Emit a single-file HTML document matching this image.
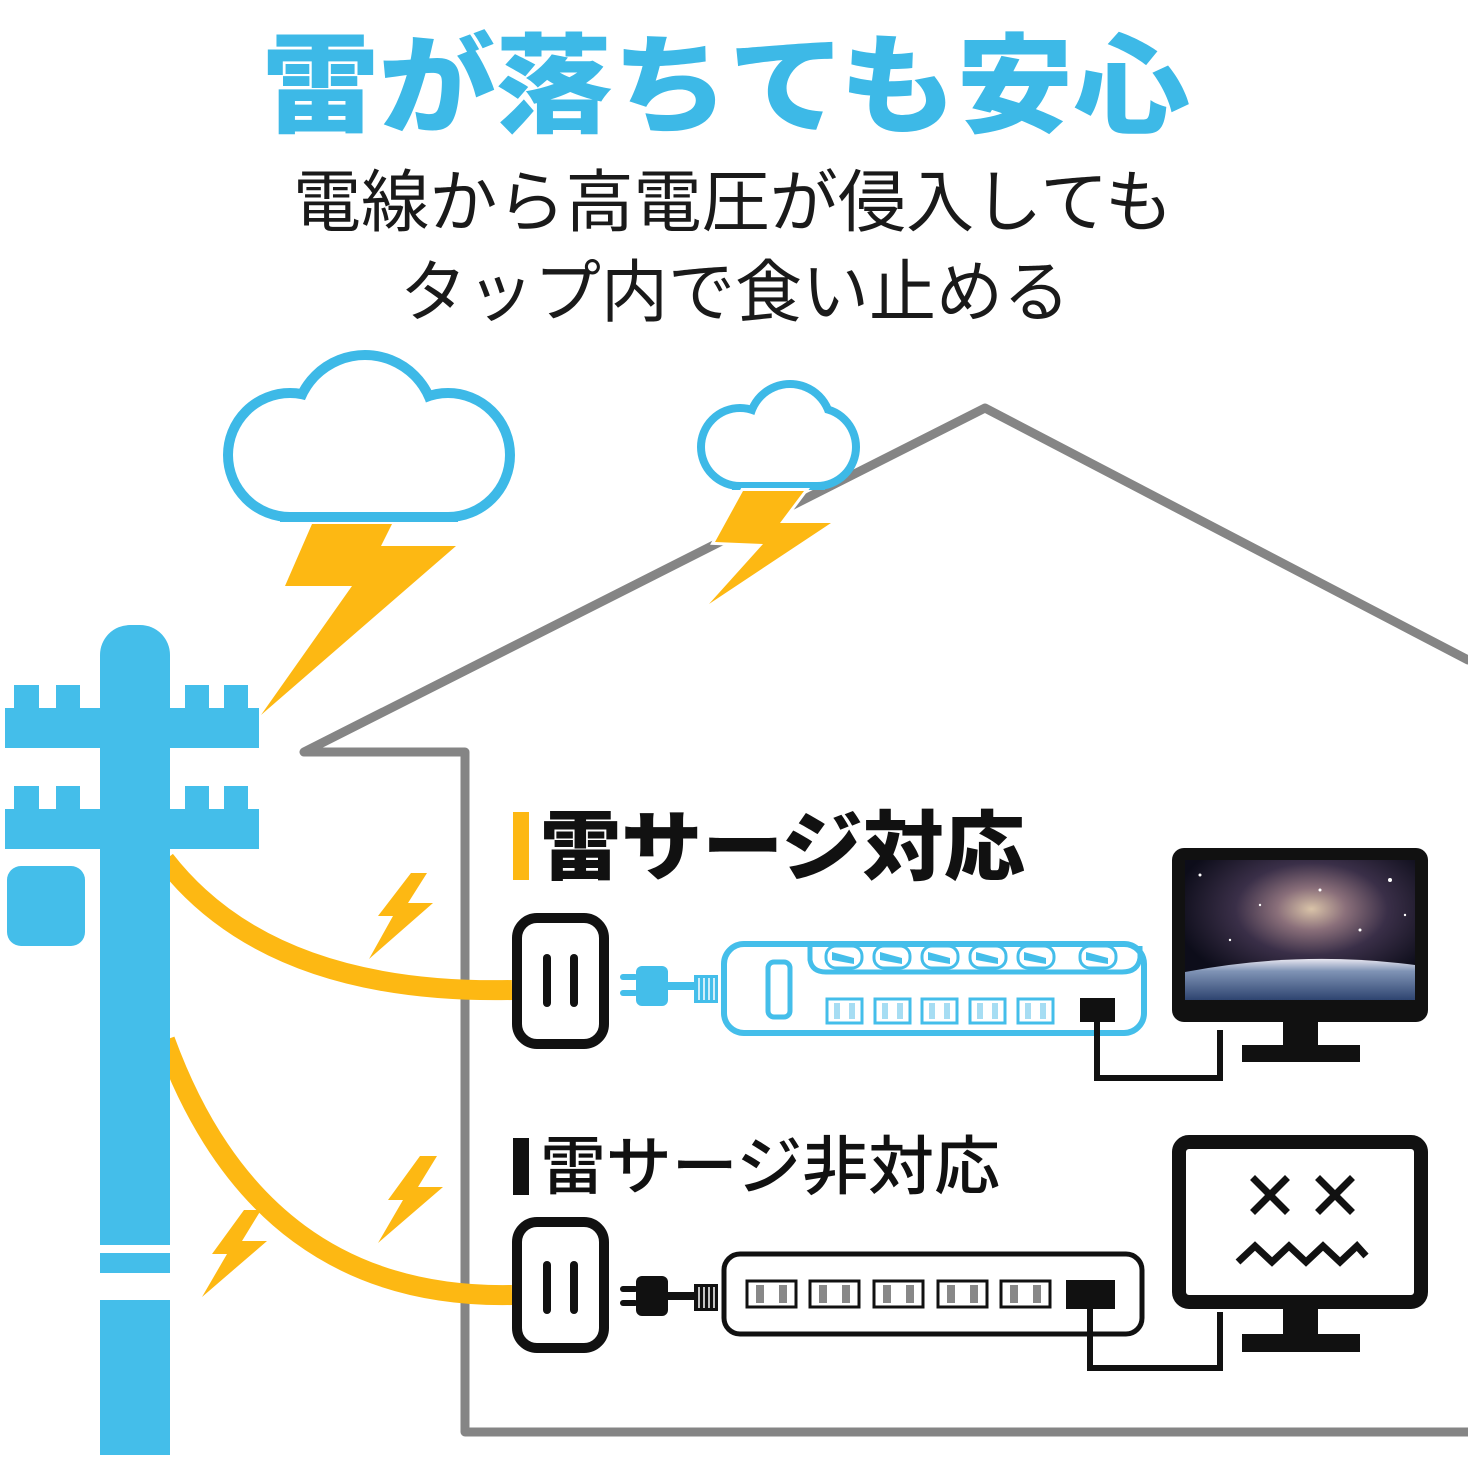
<!DOCTYPE html>
<html><head><meta charset="utf-8"><style>
html,body{margin:0;padding:0;background:#fff}
svg{display:block}
text{font-family:"Liberation Sans","Noto Sans CJK JP",sans-serif}
</style></head><body>
<svg width="1468" height="1468" viewBox="0 0 1468 1468" xmlns="http://www.w3.org/2000/svg">
<defs>
<radialGradient id="neb" cx="0.55" cy="0.35" r="0.6">
<stop offset="0" stop-color="#d9c3a8"/><stop offset="0.25" stop-color="#8a6f7a"/><stop offset="0.55" stop-color="#3a2f48"/><stop offset="1" stop-color="#0d0d1a"/>
</radialGradient>
<linearGradient id="earth" x1="0" y1="0" x2="0" y2="1">
<stop offset="0" stop-color="#e8e6f0"/><stop offset="0.3" stop-color="#7f93b5"/><stop offset="1" stop-color="#2e4470"/>
</linearGradient>
</defs>

<!-- Title -->
<text x="262" y="124" font-size="108" font-weight="900" fill="#3DB9E7" textLength="928" lengthAdjust="spacingAndGlyphs">雷が落ちても安心</text>
<text x="293" y="226" font-size="68" fill="#1a1a1a" textLength="880" lengthAdjust="spacingAndGlyphs">電線から高電圧が侵入しても</text>
<text x="400" y="316" font-size="68" fill="#1a1a1a" textLength="670" lengthAdjust="spacingAndGlyphs">タップ内で食い止める</text>

<!-- House -->
<polyline points="1468,660 985,408 304,752 465,752 465,1432 1468,1432" fill="none" stroke="#858585" stroke-width="9" stroke-linejoin="round" stroke-linecap="round"/>

<!-- Big cloud -->
<g fill="#3DB9E7" stroke="#3DB9E7" stroke-width="20">
<circle cx="290" cy="455" r="57"/><circle cx="448" cy="455" r="57"/><circle cx="365" cy="425" r="65"/><rect x="290" y="440" width="158" height="72"/>
</g>
<g fill="#fff">
<circle cx="290" cy="455" r="57"/><circle cx="448" cy="455" r="57"/><circle cx="365" cy="425" r="65"/><rect x="290" y="440" width="158" height="72"/>
</g>
<!-- Small cloud -->
<g fill="#3DB9E7" stroke="#3DB9E7" stroke-width="16">
<circle cx="740" cy="447" r="35"/><circle cx="817" cy="447" r="35"/><circle cx="790" cy="425" r="37"/><rect x="740" y="440" width="77" height="42"/>
</g>
<g fill="#fff">
<circle cx="740" cy="447" r="35"/><circle cx="817" cy="447" r="35"/><circle cx="790" cy="425" r="37"/><rect x="740" y="440" width="77" height="42"/>
</g>

<!-- Bolts -->
<polygon points="312,524 392,524 381,546 456,546 261,715 352,586 285,586" fill="#FDB813"/>
<polygon points="743,491 804,491 780,523 831,523 709,604 763,544 715,542" fill="#FDB813" stroke="#fff" stroke-width="6" stroke-linejoin="miter"/>
<polygon points="743,491 804,491 780,523 831,523 709,604 763,544 715,542" fill="#FDB813"/>
<polygon points="411,873 427,873 408,903 433,903 369,959 393,916 378,916" fill="#FDB813"/>
<polygon points="420,1156 437,1156 418,1187 443,1187 378,1243 403,1200 388,1200" fill="#FDB813"/>
<polygon points="244,1210 261,1210 242,1241 267,1241 202,1297 227,1254 212,1254" fill="#FDB813"/>

<!-- Yellow cables -->
<path d="M165,860 Q270,995 512,990" fill="none" stroke="#FDB813" stroke-width="20"/>
<path d="M165,1040 Q260,1300 512,1295" fill="none" stroke="#FDB813" stroke-width="20"/>

<!-- Pole -->
<g fill="#44BEEA">
<rect x="100" y="625" width="70" height="620" rx="30"/>
<rect x="100" y="700" width="70" height="545"/>
<rect x="100" y="1253" width="70" height="20"/>
<rect x="100" y="1300" width="70" height="155"/>
<rect x="5" y="708" width="254" height="40"/>
<rect x="14" y="685" width="25" height="30"/><rect x="56" y="685" width="24" height="30"/><rect x="185" y="685" width="24" height="30"/><rect x="224" y="685" width="24" height="30"/>
<rect x="5" y="809" width="254" height="40"/>
<rect x="14" y="786" width="25" height="30"/><rect x="56" y="786" width="24" height="30"/><rect x="185" y="786" width="24" height="30"/><rect x="224" y="786" width="24" height="30"/>
<rect x="7" y="866" width="78" height="80" rx="14"/>
</g>

<!-- Heading 1 -->
<rect x="513" y="812" width="16" height="68" fill="#FDB813"/>
<text x="540" y="874" font-size="76" font-weight="900" fill="#111" textLength="485" lengthAdjust="spacingAndGlyphs">雷サージ対応</text>

<!-- Outlet 1 -->
<rect x="517" y="918" width="87" height="126" rx="20" fill="#fff" stroke="#111" stroke-width="10"/>
<line x1="547" y1="958" x2="547" y2="1003" stroke="#111" stroke-width="8" stroke-linecap="round"/>
<line x1="574" y1="958" x2="574" y2="1003" stroke="#111" stroke-width="8" stroke-linecap="round"/>
<!-- Plug 1 -->
<g fill="#44BEEA">
<rect x="620" y="974" width="18" height="6" rx="3"/><rect x="620" y="990" width="18" height="6" rx="3"/>
<rect x="636" y="966" width="32" height="40" rx="6"/>
<rect x="666" y="982" width="30" height="8"/>
<rect x="694" y="975" width="24" height="28"/>
</g>
<g stroke="#fff" stroke-width="1.5"><line x1="699" y1="978" x2="699" y2="1000"/><line x1="704" y1="978" x2="704" y2="1000"/><line x1="709" y1="978" x2="709" y2="1000"/><line x1="714" y1="978" x2="714" y2="1000"/></g>
<!-- Strip 1 -->
<rect x="724" y="944" width="420" height="89" rx="20" fill="#fff" stroke="#44BEEA" stroke-width="6"/>
<path d="M810,946 L810,960 Q812,972 826,972 L1122,972 Q1138,972 1140,958 L1140,946" fill="none" stroke="#44BEEA" stroke-width="5"/>
<g fill="#fff" stroke="#44BEEA" stroke-width="3">
<rect x="826" y="946" width="36" height="22" rx="10"/><rect x="874" y="946" width="36" height="22" rx="10"/><rect x="922" y="946" width="36" height="22" rx="10"/><rect x="970" y="946" width="36" height="22" rx="10"/><rect x="1018" y="946" width="36" height="22" rx="10"/><rect x="1080" y="946" width="36" height="22" rx="10"/>
</g>
<g fill="#44BEEA">
<path d="M832,952 L854,958 L854,964 L832,960Z"/><path d="M880,952 L902,958 L902,964 L880,960Z"/><path d="M928,952 L950,958 L950,964 L928,960Z"/><path d="M976,952 L998,958 L998,964 L976,960Z"/><path d="M1024,952 L1046,958 L1046,964 L1024,960Z"/><path d="M1086,952 L1108,958 L1108,964 L1086,960Z"/>
</g>
<rect x="768" y="962" width="22" height="55" rx="6" fill="#fff" stroke="#44BEEA" stroke-width="5"/>
<g fill="#fff" stroke="#44BEEA" stroke-width="3">
<rect x="827" y="999" width="35" height="24"/><rect x="875" y="999" width="35" height="24"/><rect x="922" y="999" width="35" height="24"/><rect x="970" y="999" width="35" height="24"/><rect x="1018" y="999" width="35" height="24"/>
</g>
<g fill="#A6DDF3">
<rect x="834" y="1003" width="6" height="16"/><rect x="849" y="1003" width="6" height="16"/><rect x="882" y="1003" width="6" height="16"/><rect x="897" y="1003" width="6" height="16"/><rect x="929" y="1003" width="6" height="16"/><rect x="944" y="1003" width="6" height="16"/><rect x="977" y="1003" width="6" height="16"/><rect x="992" y="1003" width="6" height="16"/><rect x="1025" y="1003" width="6" height="16"/><rect x="1040" y="1003" width="6" height="16"/>
</g>
<rect x="1080" y="998" width="35" height="24" fill="#111"/>
<polyline points="1097,1020 1097,1078 1220,1078 1220,1030" fill="none" stroke="#111" stroke-width="6"/>

<!-- Monitor 1 -->
<rect x="1172" y="848" width="256" height="174" rx="12" fill="#111"/>
<rect x="1185" y="860" width="230" height="140" fill="url(#neb)"/>
<path d="M1185,972 Q1300,950 1415,965 L1415,1000 L1185,1000Z" fill="url(#earth)"/>
<g fill="#fff"><circle cx="1200" cy="875" r="1.5"/><circle cx="1390" cy="880" r="2"/><circle cx="1260" cy="905" r="1.2"/><circle cx="1360" cy="930" r="1.5"/><circle cx="1230" cy="940" r="1.2"/><circle cx="1405" cy="915" r="1.2"/><circle cx="1320" cy="890" r="1.5"/></g>
<rect x="1283" y="1020" width="35" height="27" fill="#111"/>
<rect x="1242" y="1045" width="118" height="17" fill="#111"/>

<!-- Heading 2 -->
<rect x="513" y="1138" width="16" height="57" fill="#111"/>
<text x="540" y="1189" font-size="64" font-weight="500" fill="#111" textLength="460" lengthAdjust="spacingAndGlyphs">雷サージ非対応</text>

<!-- Outlet 2 -->
<rect x="517" y="1222" width="87" height="126" rx="20" fill="#fff" stroke="#111" stroke-width="10"/>
<line x1="547" y1="1265" x2="547" y2="1310" stroke="#111" stroke-width="8" stroke-linecap="round"/>
<line x1="574" y1="1265" x2="574" y2="1310" stroke="#111" stroke-width="8" stroke-linecap="round"/>
<!-- Plug 2 -->
<g fill="#111">
<rect x="620" y="1286" width="18" height="6" rx="3"/><rect x="620" y="1300" width="18" height="6" rx="3"/>
<rect x="636" y="1276" width="32" height="40" rx="6"/>
<rect x="666" y="1292" width="30" height="8"/>
<rect x="694" y="1284" width="24" height="27"/>
</g>
<g stroke="#fff" stroke-width="1.5"><line x1="699" y1="1287" x2="699" y2="1308"/><line x1="704" y1="1287" x2="704" y2="1308"/><line x1="709" y1="1287" x2="709" y2="1308"/><line x1="714" y1="1287" x2="714" y2="1308"/></g>
<!-- Strip 2 -->
<rect x="724" y="1254" width="418" height="80" rx="16" fill="#fff" stroke="#111" stroke-width="5"/>
<g fill="#fff" stroke="#111" stroke-width="3">
<rect x="747" y="1281" width="49" height="26"/><rect x="810" y="1281" width="49" height="26"/><rect x="874" y="1281" width="49" height="26"/><rect x="938" y="1281" width="49" height="26"/><rect x="1001" y="1281" width="49" height="26"/>
</g>
<g fill="#888">
<rect x="756" y="1285" width="8" height="18"/><rect x="779" y="1285" width="8" height="18"/><rect x="819" y="1285" width="8" height="18"/><rect x="842" y="1285" width="8" height="18"/><rect x="883" y="1285" width="8" height="18"/><rect x="906" y="1285" width="8" height="18"/><rect x="947" y="1285" width="8" height="18"/><rect x="970" y="1285" width="8" height="18"/><rect x="1010" y="1285" width="8" height="18"/><rect x="1033" y="1285" width="8" height="18"/>
</g>
<rect x="1066" y="1280" width="49" height="29" fill="#111"/>
<polyline points="1090,1305 1090,1368 1220,1368 1220,1312" fill="none" stroke="#111" stroke-width="6"/>

<!-- Monitor 2 -->
<rect x="1179" y="1142" width="242" height="160" rx="10" fill="#fff" stroke="#111" stroke-width="14"/>
<g stroke="#111" stroke-width="7" stroke-linecap="square">
<line x1="1255" y1="1180" x2="1285" y2="1210"/><line x1="1285" y1="1180" x2="1255" y2="1210"/>
<line x1="1320" y1="1180" x2="1350" y2="1210"/><line x1="1350" y1="1180" x2="1320" y2="1210"/>
</g>
<polyline points="1238,1262 1255,1246 1272,1262 1289,1246 1306,1262 1323,1246 1340,1262 1357,1246 1366,1256" fill="none" stroke="#111" stroke-width="7"/>
<rect x="1283" y="1306" width="35" height="30" fill="#111"/>
<rect x="1242" y="1334" width="118" height="18" fill="#111"/>
</svg>
</body></html>
